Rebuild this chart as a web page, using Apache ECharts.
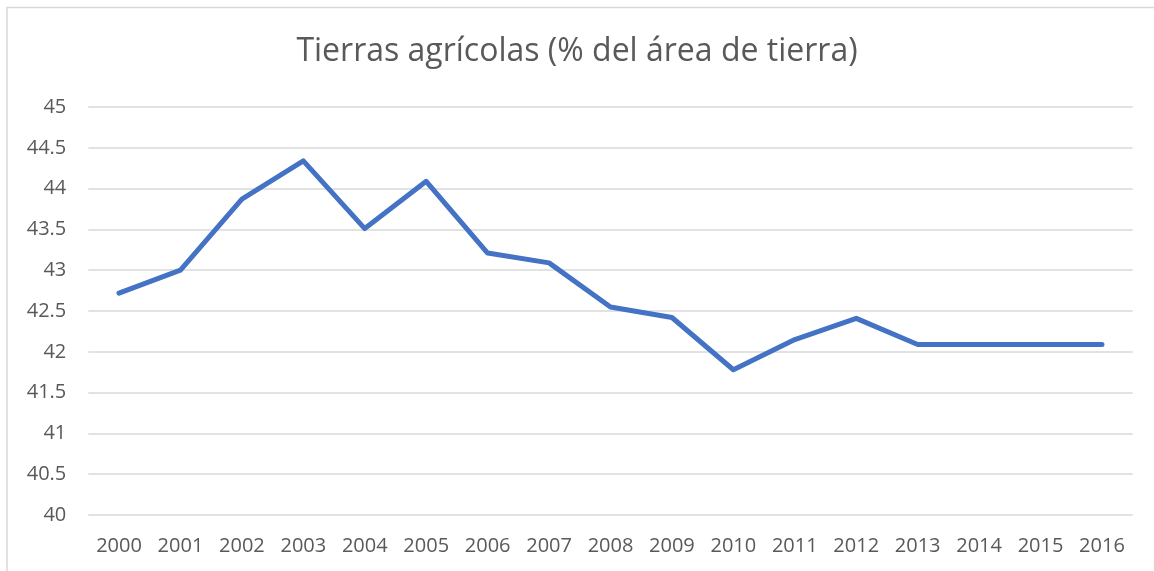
<!DOCTYPE html>
<html>
<head>
<meta charset="utf-8">
<script src="https://cdn.jsdelivr.net/npm/echarts@6/dist/echarts.min.js"></script>
<style>
html,body{margin:0;padding:0;background:#fff;}
#chart{width:1154px;height:571px;}
</style>
</head>
<body>
<div id="chart"></div>
<script>
const titleText = 'Tierras agrícolas (% del área de tierra)';
const years = ['2000','2001','2002','2003','2004','2005','2006','2007','2008','2009','2010','2011','2012','2013','2014','2015','2016'];
const values = [42.72, 43.00, 43.87, 44.34, 43.51, 44.09, 43.21, 43.09, 42.55, 42.42, 41.78, 42.15, 42.41, 42.09, 42.09, 42.09, 42.09];
const yMin = 40, yMax = 45, yStep = 0.5;

const chart = echarts.init(document.getElementById('chart'), null, {renderer: 'canvas'});
chart.setOption({
  backgroundColor: '#ffffff',
  animation: false,
  graphic: [{
    type: 'rect',
    shape: {x: 7, y: 7.5, width: 1160, height: 580},
    style: {fill: 'none', stroke: '#d9d9d9', lineWidth: 1.5},
    silent: true
  }],
  title: {
    text: titleText,
    left: 'center',
    top: 31,
    textStyle: {fontFamily: 'Open Sans', fontWeight: 'normal', fontSize: 32, color: '#595959'}
  },
  grid: {left: 88.3, right: 21.3, top: 107, bottom: 56},
  xAxis: {
    type: 'category',
    data: years,
    boundaryGap: true,
    axisLine: {show: false},
    axisTick: {show: false},
    axisLabel: {fontFamily: 'Open Sans', fontSize: 20, color: '#595959', margin: 21}
  },
  yAxis: {
    type: 'value',
    min: yMin, max: yMax, interval: yStep,
    axisLine: {show: false},
    axisTick: {show: false},
    splitLine: {lineStyle: {color: '#d9d9d9', width: 1.5}},
    axisLabel: {fontFamily: 'Open Sans', fontSize: 20, color: '#595959', margin: 22}
  },
  series: [{
    type: 'line',
    data: values,
    showSymbol: false,
    symbol: 'none',
    lineStyle: {color: '#4472c4', width: 5, cap: 'round', join: 'round'}
  }]
});
</script>
</body>
</html>
